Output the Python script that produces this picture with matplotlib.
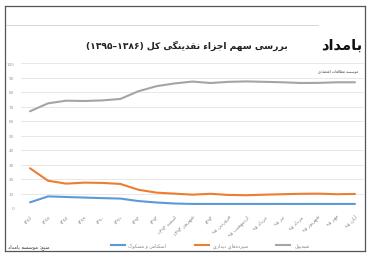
import matplotlib
matplotlib.use("Agg")
import matplotlib.pyplot as plt
from matplotlib.lines import Line2D

# ---------------- data ----------------
categories = ["۱۳۸۶", "۱۳۸۷", "۱۳۸۸", "۱۳۸۹", "۱۳۹۰", "۱۳۹۱", "۱۳۹۲", "۱۳۹۳",
              "اسفند ۱۳۹۳", "شهریور ۱۳۹۴", "۱۳۹۴", "فروردین ۹۵", "اردیبهشت ۹۵",
              "خرداد ۹۵", "تیر ۹۵", "مرداد ۹۵", "شهریور ۹۵", "مهر ۹۵", "آبان ۹۵"]
currency = [3.9, 8.0, 7.6, 7.2, 6.8, 6.5, 4.8, 3.8, 3.1, 2.8, 2.8, 2.8, 2.8,
            2.8, 2.8, 2.8, 2.8, 2.8, 2.8]
demand = [27.4, 18.8, 16.8, 17.5, 17.3, 16.6, 12.6, 10.6, 9.9, 9.2, 9.8, 9.0,
          8.8, 9.2, 9.5, 9.8, 9.9, 9.5, 9.7]
quasi = [66.7, 72.2, 74.0, 73.8, 74.2, 75.2, 80.5, 84.0, 85.9, 87.2, 86.2, 87.0,
         87.3, 87.0, 86.7, 86.2, 86.3, 86.7, 86.7]
series_names = ["اسکناس و مسکوک", "سپرده‌های دیداری", "شبه‌پول"]
yticks = [0, 10, 20, 30, 40, 50, 60, 70, 80, 90, 100]
title_text = "بررسی سهم اجزاء نقدینگی کل (۱۳۸۶–۱۳۹۵)"
logo_text = "بامداد"
logo_sub = "موسسه مطالعات اقتصادی"
source_text = "منبع: موسسه بامداد"

# ---------------- simple Arabic-script shaping (visual order) ----------------
FORMS = {  # iso, fin, ini, med
    'ا': (0xFE8D, 0xFE8E, None, None), 'آ': (0xFE81, 0xFE82, None, None),
    'ب': (0xFE8F, 0xFE90, 0xFE91, 0xFE92), 'پ': (0xFB56, 0xFB57, 0xFB58, 0xFB59),
    'ت': (0xFE95, 0xFE96, 0xFE97, 0xFE98), 'ث': (0xFE99, 0xFE9A, 0xFE9B, 0xFE9C),
    'ج': (0xFE9D, 0xFE9E, 0xFE9F, 0xFEA0), 'چ': (0xFB7A, 0xFB7B, 0xFB7C, 0xFB7D),
    'ح': (0xFEA1, 0xFEA2, 0xFEA3, 0xFEA4), 'خ': (0xFEA5, 0xFEA6, 0xFEA7, 0xFEA8),
    'د': (0xFEA9, 0xFEAA, None, None), 'ذ': (0xFEAB, 0xFEAC, None, None),
    'ر': (0xFEAD, 0xFEAE, None, None), 'ز': (0xFEAF, 0xFEB0, None, None),
    'ژ': (0xFB8A, 0xFB8B, None, None),
    'س': (0xFEB1, 0xFEB2, 0xFEB3, 0xFEB4), 'ش': (0xFEB5, 0xFEB6, 0xFEB7, 0xFEB8),
    'ص': (0xFEB9, 0xFEBA, 0xFEBB, 0xFEBC), 'ض': (0xFEBD, 0xFEBE, 0xFEBF, 0xFEC0),
    'ط': (0xFEC1, 0xFEC2, 0xFEC3, 0xFEC4), 'ظ': (0xFEC5, 0xFEC6, 0xFEC7, 0xFEC8),
    'ع': (0xFEC9, 0xFECA, 0xFECB, 0xFECC), 'غ': (0xFECD, 0xFECE, 0xFECF, 0xFED0),
    'ف': (0xFED1, 0xFED2, 0xFED3, 0xFED4), 'ق': (0xFED5, 0xFED6, 0xFED7, 0xFED8),
    'ک': (0xFB8E, 0xFB8F, 0xFB90, 0xFB91), 'گ': (0xFB92, 0xFB93, 0xFB94, 0xFB95),
    'ل': (0xFEDD, 0xFEDE, 0xFEDF, 0xFEE0), 'م': (0xFEE1, 0xFEE2, 0xFEE3, 0xFEE4),
    'ن': (0xFEE5, 0xFEE6, 0xFEE7, 0xFEE8), 'و': (0xFEED, 0xFEEE, None, None),
    'ه': (0xFEE9, 0xFEEA, 0xFEEB, 0xFEEC), 'ی': (0xFBFC, 0xFBFD, 0xFBFE, 0xFBFF),
    'ء': (0xFE80, None, None, None),
}


def dual(c):
    f = FORMS.get(c)
    return f is not None and f[2] is not None


def joins(c):
    f = FORMS.get(c)
    return f is not None and f[1] is not None


def shape(s):
    out = []
    for i, c in enumerate(s):
        if c not in FORMS:
            out.append(c)
            continue
        prev = s[i - 1] if i > 0 else ''
        nxt = s[i + 1] if i + 1 < len(s) else ''
        pj = dual(prev) and joins(c)
        nj = dual(c) and joins(nxt)
        iso, fin, ini, med = FORMS[c]
        if pj and nj:
            cp = med
        elif pj:
            cp = fin
        elif nj:
            cp = ini
        else:
            cp = iso
        out.append(chr(cp))
    return ''.join(out).replace('\u200c', '')


DIG = set('۰۱۲۳۴۵۶۷۸۹0123456789')
MIRROR = {'(': ')', ')': '('}


def vis(s):
    s = shape(s)
    tokens = []
    for c in s:
        if c in DIG and tokens and tokens[-1][0] in DIG:
            tokens[-1] += c
        else:
            tokens.append(c)
    tokens.reverse()
    return ''.join(MIRROR.get(t, t) for t in tokens)


# ---------------- figure ----------------
W, H = 371, 255
fig = plt.figure(figsize=(W / 100, H / 100), dpi=100)
fig.patch.set_facecolor('white')


def px(x, y):
    return x / W, 1 - y / H


# frame
fl = dict(transform=fig.transFigure, lw=0.9, color='#555555')
fig.add_artist(Line2D([5 / W, 5 / W], [1 - 7 / H, 1 - 252 / H], **fl))
fig.add_artist(Line2D([5 / W, 365 / W], [1 - 7 / H, 1 - 7 / H], **fl))
fig.add_artist(Line2D([365 / W, 365 / W], [1 - 7 / H, 1 - 252 / H], **fl))
fig.add_artist(Line2D([5 / W, 365 / W], [1 - 252 / H, 1 - 252 / H], **fl))
fig.add_artist(Line2D([6 / W, 318 / W], [1 - 26 / H, 1 - 26 / H],
                      transform=fig.transFigure, lw=0.6, color='#d0d0d0'))

# axes: value 0 at y=209, 100 at y=64; categories from x=21 to x=364
ax = fig.add_axes([21 / W, 1 - 209 / H, 343 / W, 145 / H])
ax.set_facecolor('none')
x = list(range(len(categories)))
ax.plot(x, quasi, color='#a5a5a5', lw=1.5, solid_capstyle='round', zorder=3)
ax.plot(x, demand, color='#ed7d31', lw=1.5, solid_capstyle='round', zorder=3)
ax.plot(x, currency, color='#5b9bd5', lw=1.5, solid_capstyle='round', zorder=3)
ax.set_xlim(-0.5, len(categories) - 0.5)
ax.set_ylim(0, 100)
ax.set_yticks(yticks)
ax.set_yticklabels([str(v) for v in yticks], fontsize=3, color='#999999')
ax.grid(axis='y', color='#e4e4e4', lw=0.6)
ax.set_axisbelow(True)
for sp in ax.spines.values():
    sp.set_visible(False)
ax.tick_params(axis='y', length=0, pad=5)
ax.set_xticks(x)
ax.set_xticklabels([vis(c) for c in categories], rotation=45, ha='right',
                   va='top', rotation_mode='anchor', fontsize=3.6, color='#888888',
                   family='DejaVu Sans')
ax.tick_params(axis='x', length=0, pad=4)

# title
fig.text(*px(187, 46), vis(title_text), ha='center', va='center', fontsize=6.6,
         fontweight='bold', family='DejaVu Sans', color='#222222')

# logo
fig.text(*px(342, 45), vis(logo_text), ha='center', va='center', fontsize=10.5,
         fontweight='bold', family='DejaVu Sans', color='#111111')
fig.text(*px(338, 71), vis(logo_sub), ha='center', va='center', fontsize=2.6,
         family='DejaVu Sans', color='#444444')

# source + legend row
fig.text(*px(8, 247), vis(source_text), ha='left', va='center', fontsize=3.6,
         family='DejaVu Sans', color='#333333')
handles = [Line2D([], [], color=c, lw=1.5) for c in ('#5b9bd5', '#ed7d31', '#a5a5a5')]
fig.legend(handles, [vis(n) for n in series_names], loc='center',
           bbox_to_anchor=(210 / W, 1 - 246 / H), ncol=3, frameon=False,
           handlelength=3, columnspacing=6, labelcolor='#888888',
           prop={'family': 'DejaVu Sans', 'size': 3.4})

fig.savefig('out.png', dpi=100, facecolor='white')
